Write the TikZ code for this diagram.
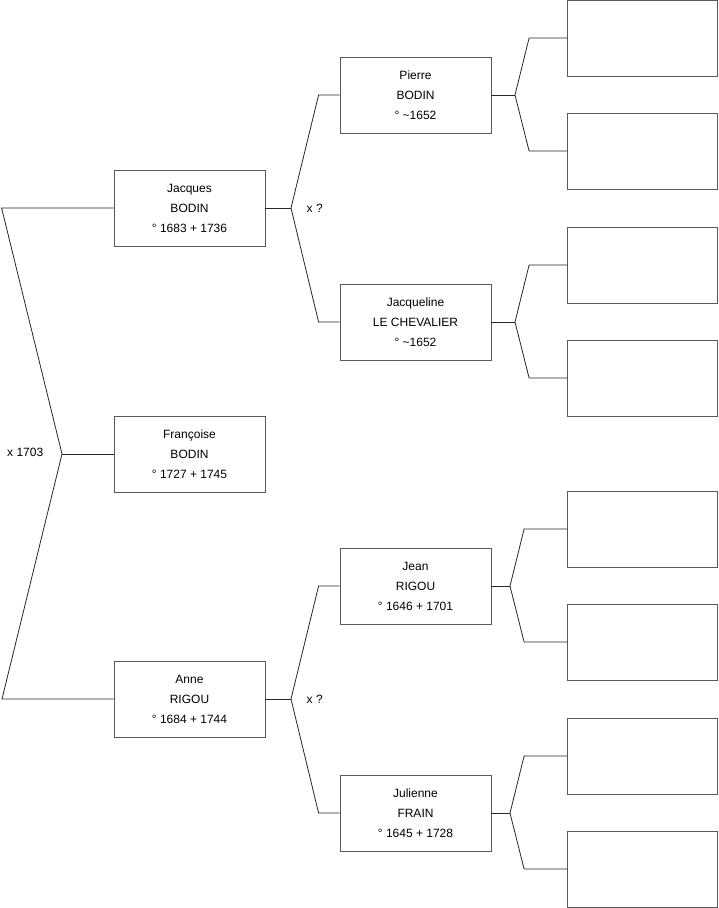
\documentclass[tikz,border=0pt]{standalone}
\usepackage{fontspec}
\setmainfont{Liberation Sans}
\usetikzlibrary{calc}

\begin{document}
\begin{tikzpicture}[x=1pt, y=-1pt, line width=0.8pt,
    person/.style={draw=black!65, minimum width=151pt, minimum height=76pt,
      inner sep=0pt, align=center, font=\fontsize{12}{20}\selectfont},
    link/.style={draw=black!85},
    note/.style={font=\fontsize{12}{14}\selectfont}]
  \useasboundingbox (0,0) rectangle (719,908);

  % generation 1 and 2
  \node[person] (jacques) at (189.5,208) {Jacques\\BODIN\\° 1683 + 1736};
  \node[person] (francoise) at (189.5,454) {Françoise\\BODIN\\° 1727 + 1745};
  \node[person] (anne) at (189.5,699) {Anne\\RIGOU\\° 1684 + 1744};

  % generation 3
  \node[person] (pierre) at (415.5,95) {Pierre\\BODIN\\° \textasciitilde1652};
  \node[person] (jacqueline) at (415.5,322) {Jacqueline\\LE CHEVALIER\\° \textasciitilde1652};
  \node[person] (jean) at (415.5,586) {Jean\\RIGOU\\° 1646 + 1701};
  \node[person] (julienne) at (415.5,813) {Julienne\\FRAIN\\° 1645 + 1728};

  % generation 4 (empty)
  \node[person, minimum width=150pt] (pb1) at (642.5,38) {};
  \node[person, minimum width=150pt] (pb2) at (642.5,151) {};
  \node[person, minimum width=150pt] (jc1) at (642.5,265) {};
  \node[person, minimum width=150pt] (jc2) at (642.5,378) {};
  \node[person, minimum width=150pt] (je1) at (642.5,529) {};
  \node[person, minimum width=150pt] (je2) at (642.5,642) {};
  \node[person, minimum width=150pt] (ju1) at (642.5,756) {};
  \node[person, minimum width=150pt] (ju2) at (642.5,869) {};

  % marriage forks
  \coordinate (wed) at (62,454);
  \coordinate (wedJ) at (291,208);
  \coordinate (wedA) at (291,699);
  \coordinate (wedP) at (515,95);
  \coordinate (wedC) at (515,322);
  \coordinate (wedE) at (510,586);
  \coordinate (wedU) at (510,813);

  \draw[link] (jacques.west) -- ++(-112,0) -- (wed) -- (2,699) -- (anne.west);
  \draw[link] (wed) -- (francoise.west);
  \node[note, anchor=east] (wedlbl) at ($(wed)+(-15,-2)$) {x 1703};

  \draw[link] (jacques.east) -- (wedJ);
  \draw[link] (pierre.west) -- ++(-21,0) -- (wedJ)
    -- ($(jacqueline.west)+(-21,0)$) -- (jacqueline.west);
  \node[note, anchor=west] (wedJlbl) at ($(wedJ)+(12,0)$) {x ?};

  \draw[link] (anne.east) -- (wedA);
  \draw[link] (jean.west) -- ++(-21,0) -- (wedA)
    -- ($(julienne.west)+(-21,0)$) -- (julienne.west);
  \node[note, anchor=west] (wedAlbl) at ($(wedA)+(12,0)$) {x ?};

  \draw[link] (pierre.east) -- (wedP);
  \draw[link] (pb1.west) -- ++(-38,0) -- (wedP) -- ($(pb2.west)+(-38,0)$) -- (pb2.west);
  \draw[link] (jacqueline.east) -- (wedC);
  \draw[link] (jc1.west) -- ++(-38,0) -- (wedC) -- ($(jc2.west)+(-38,0)$) -- (jc2.west);
  \draw[link] (jean.east) -- (wedE);
  \draw[link] (je1.west) -- ++(-43,0) -- (wedE) -- ($(je2.west)+(-43,0)$) -- (je2.west);
  \draw[link] (julienne.east) -- (wedU);
  \draw[link] (ju1.west) -- ++(-43,0) -- (wedU) -- ($(ju2.west)+(-43,0)$) -- (ju2.west);
\end{tikzpicture}
\end{document}
